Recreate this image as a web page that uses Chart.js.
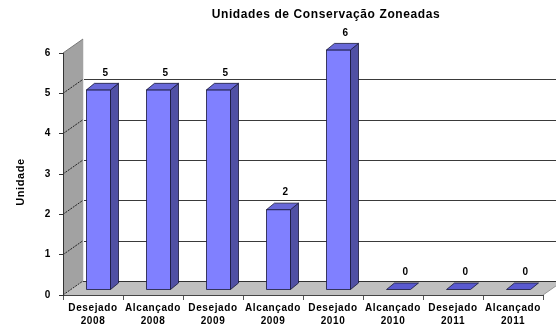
<!DOCTYPE html>
<html>
<head>
<meta charset="utf-8">
<script src="https://cdn.jsdelivr.net/npm/chart.js@4/dist/chart.umd.min.js"></script>
<style>
  html, body { margin: 0; padding: 0; background: #fff; }
  #wrap { width: 556px; height: 325px; }
</style>
</head>
<body>
<div id="wrap"><canvas id="ucChart" width="556" height="325"></canvas></div>
<script>
// categories and values
const situacao = ['Desejado', 'Alcançado', 'Desejado', 'Alcançado', 'Desejado', 'Alcançado', 'Desejado', 'Alcançado'];
const anos = ['2008', '2008', '2009', '2009', '2010', '2010', '2011', '2011'];
const unidades = [5, 5, 5, 2, 6, 0, 0, 0];
const yTicks = [0, 1, 2, 3, 4, 5, 6];

const FONT = "'Liberation Sans', Arial, sans-serif";
const SPACING = '0.6px';

// 3D look: depth of the plot box and of each bar
const DEPTH = { dx: 20, dy: -14 };
const BAR_SHIFT = { dx: 5.5, dy: -5.5 };
const BAR_DEPTH = { dx: 8, dy: -6.5 };

function poly(ctx, pts, fill, stroke, lw) {
    ctx.beginPath();
    ctx.moveTo(pts[0][0], pts[0][1]);
    for (let i = 1; i < pts.length; i++) ctx.lineTo(pts[i][0], pts[i][1]);
    ctx.closePath();
    if (fill) { ctx.fillStyle = fill; ctx.fill(); }
    if (stroke) { ctx.strokeStyle = stroke; ctx.lineWidth = lw || 1; ctx.stroke(); }
}

const box3d = {
    id: 'box3d',
    beforeDraw(chart) {
        const { ctx, chartArea: a, scales: { y } } = chart;
        const y0 = y.getPixelForValue(0);
        const yTop = y.getPixelForValue(yTicks[yTicks.length - 1]);
        // wider text for the axis labels drawn after this hook
        ctx.letterSpacing = SPACING;
        ctx.save();
        // floor
        poly(ctx, [[a.left, y0], [a.right, y0], [a.right + DEPTH.dx, y0 + DEPTH.dy], [a.left + DEPTH.dx, y0 + DEPTH.dy]], '#c0c0c0');
        // left wall
        poly(ctx, [[a.left, yTop], [a.left + DEPTH.dx, yTop + DEPTH.dy], [a.left + DEPTH.dx, y0 + DEPTH.dy], [a.left, y0]], '#a2a2a2');
        // gridlines on the back wall
        ctx.lineWidth = 1;
        yTicks.forEach(v => {
            if (v === yTicks[yTicks.length - 1]) return;
            const py = Math.round(y.getPixelForValue(v) + DEPTH.dy) + 0.5;
            ctx.strokeStyle = v === 0 ? '#333' : '#3a3a3a';
            ctx.beginPath();
            ctx.moveTo(a.left + DEPTH.dx, py);
            ctx.lineTo(a.right + DEPTH.dx, py);
            ctx.stroke();
            // matching diagonal on the wall
            ctx.strokeStyle = '#222';
            ctx.setLineDash([2, 1]);
            ctx.beginPath();
            ctx.moveTo(a.left, y.getPixelForValue(v));
            ctx.lineTo(a.left + DEPTH.dx, y.getPixelForValue(v) + DEPTH.dy);
            ctx.stroke();
            ctx.setLineDash([]);
        });
        // wall top edge
        ctx.strokeStyle = '#777';
        ctx.beginPath();
        ctx.moveTo(a.left, yTop);
        ctx.lineTo(a.left + DEPTH.dx, yTop + DEPTH.dy);
        ctx.stroke();
        // light seam between wall and back plane
        ctx.strokeStyle = '#e8e8e8';
        ctx.beginPath();
        ctx.moveTo(a.left + DEPTH.dx + 0.5, yTop + DEPTH.dy);
        ctx.lineTo(a.left + DEPTH.dx + 0.5, y0 + DEPTH.dy);
        ctx.stroke();
        // floor right side
        ctx.strokeStyle = '#999';
        ctx.beginPath();
        ctx.moveTo(a.right, y0);
        ctx.lineTo(a.right + DEPTH.dx, y0 + DEPTH.dy);
        ctx.stroke();
        ctx.restore();
    },
    afterDatasetsDraw(chart) {
        const { ctx, scales: { y } } = chart;
        const meta = chart.getDatasetMeta(0);
        const y0 = y.getPixelForValue(0);
        ctx.save();
        ctx.letterSpacing = SPACING;
        ctx.lineJoin = 'round';
        meta.data.forEach((bar, i) => {
            const { x, width } = bar.getProps(['x', 'width'], true);
            const v = unidades[i];
            const h = (y0 - y.getPixelForValue(v)) * 0.99;
            const l = x - width / 2 + BAR_SHIFT.dx;
            const r = x + width / 2 + BAR_SHIFT.dx;
            const b = y0 + BAR_SHIFT.dy;
            const t = b - h;
            const ddx = BAR_DEPTH.dx, ddy = BAR_DEPTH.dy;
            const edge = '#16163a';
            if (h > 0) {
                poly(ctx, [[l, t], [r, t], [r, b], [l, b]], '#8080ff', edge, 0.8);
                poly(ctx, [[r, t], [r + ddx, t + ddy], [r + ddx, b + ddy], [r, b]], '#5050a4', edge, 0.8);
            }
            poly(ctx, [[l, t], [l + ddx, t + ddy], [r + ddx, t + ddy], [r, t]], h > 0 ? '#6868d8' : '#5a5ad0', edge, 0.8);

            // value label
            ctx.fillStyle = '#000';
            ctx.font = 'bold 10px ' + FONT;
            ctx.textAlign = 'center';
            ctx.textBaseline = 'middle';
            ctx.fillText(String(v), x + BAR_SHIFT.dx + 7, t - 17);
        });

        // chart title
        ctx.font = 'bold 12px ' + FONT;
        ctx.textAlign = 'center';
        ctx.textBaseline = 'middle';
        ctx.fillText('Unidades de Conservação Zoneadas', 326, 15);

        // y axis title
        ctx.translate(21, 182);
        ctx.rotate(-Math.PI / 2);
        ctx.font = 'bold 11px ' + FONT;
        ctx.fillText('Unidade', 0, 0);
        ctx.restore();
    }
};

const ctx = document.getElementById('ucChart').getContext('2d');
new Chart(ctx, {
    type: 'bar',
    data: {
        labels: situacao.map((s, i) => [s, anos[i]]),
        datasets: [{
            label: 'Unidade',
            data: unidades,
            backgroundColor: 'rgba(0,0,0,0)',
            borderWidth: 0,
            categoryPercentage: 1,
            barPercentage: 0.4
        }]
    },
    options: {
        responsive: false,
        animation: false,
        layout: { padding: { left: 0, right: 13, top: 53, bottom: 0 } },
        plugins: {
            legend: { display: false },
            tooltip: { enabled: false },
            title: { display: false }
        },
        scales: {
            x: {
                offset: true,
                grid: { drawOnChartArea: false, offset: true, tickLength: 5, color: '#555' },
                border: { display: true, color: '#444' },
                ticks: {
                    color: '#000',
                    font: { family: FONT, size: 10, weight: 'bold', lineHeight: 1.35 },
                    maxRotation: 0,
                    autoSkip: false,
                    padding: 1
                },
                afterFit(s) { s.height = 30; }
            },
            y: {
                min: yTicks[0],
                max: yTicks[yTicks.length - 1],
                grid: { drawOnChartArea: false, tickLength: 4, color: '#333' },
                border: { display: true, color: '#333' },
                ticks: {
                    stepSize: 1,
                    color: '#000',
                    font: { family: FONT, size: 10, weight: 'bold' },
                    padding: 8
                },
                afterFit(s) { s.width = 63; }
            }
        }
    },
    plugins: [box3d]
});
</script>
</body>
</html>
